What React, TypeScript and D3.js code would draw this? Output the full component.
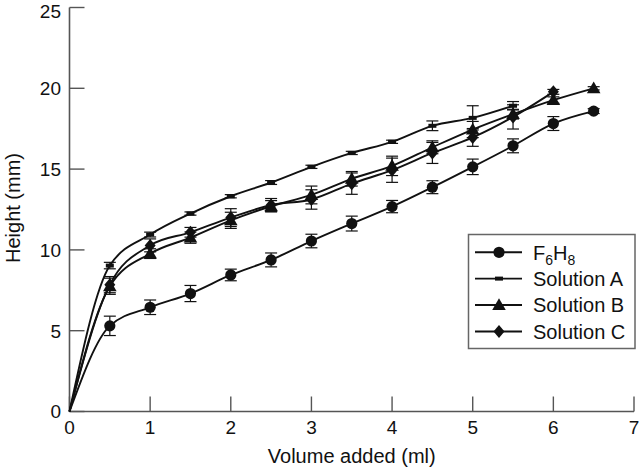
import React from "react";
import * as d3 from "d3";

const volumes = [0, 0.5, 1, 1.5, 2, 2.5, 3, 3.5, 4, 4.5, 5, 5.5, 6, 6.5];

const f6h8Values = [0, 5.3, 6.45, 7.3, 8.45, 9.38, 10.55, 11.63, 12.68, 13.88, 15.14, 16.44, 17.82, 18.59];
const f6h8Err = [0, 0.6, 0.45, 0.5, 0.36, 0.43, 0.42, 0.46, 0.38, 0.4, 0.48, 0.43, 0.43, 0.15];

const solAValues = [0, 9.03, 10.95, 12.25, 13.32, 14.17, 15.14, 16.0, 16.69, 17.68, 18.17, 18.92];
const solAErr = [0, 0.2, 0.15, 0.1, 0.1, 0.12, 0.1, 0.1, 0.1, 0.3, 0.75, 0.26];

const solBValues = [0, 7.75, 9.77, 10.76, 11.83, 12.7, 13.4, 14.4, 15.2, 16.35, 17.45, 18.4, 19.27, 20.0];
const solBErr = [0, 0.5, 0.3, 0.35, 0.5, 0.35, 0.55, 0.45, 0.6, 0.4, 0.5, 0.3, 0.2, 0.1];

const solCValues = [0, 7.85, 10.28, 11.09, 12.0, 12.78, 13.12, 14.1, 14.93, 16.0, 16.96, 18.23, 19.78];
const solCErr = [0, 0.5, 0.4, 0.3, 0.55, 0.4, 0.6, 0.66, 0.75, 0.65, 0.55, 0.75, 0.15];

const xTicks = [0, 1, 2, 3, 4, 5, 6, 7];
const yTicks = [0, 5, 10, 15, 20, 25];

const legendLabels = ["F6H8", "Solution A", "Solution B", "Solution C"];

type Kind = "circle" | "rect" | "triangle" | "diamond";

const series: { name: string; values: number[]; err: number[]; kind: Kind }[] = [
  { name: legendLabels[0], values: f6h8Values, err: f6h8Err, kind: "circle" },
  { name: legendLabels[1], values: solAValues, err: solAErr, kind: "rect" },
  { name: legendLabels[2], values: solBValues, err: solBErr, kind: "triangle" },
  { name: legendLabels[3], values: solCValues, err: solCErr, kind: "diamond" },
];

const W = 640;
const H = 469;
const x = d3.scaleLinear().domain([0, 7]).range([69.5, 634]);
const y = d3.scaleLinear().domain([0, 25]).range([411.5, 7.5]);

const FONT = "'Liberation Sans', Arial, sans-serif";
const INK = "#111";
const AXIS = "#555";

function Marker({ kind, cx, cy }: { kind: Kind; cx: number; cy: number }) {
  if (kind === "circle") return <circle cx={cx} cy={cy} r={5.6} fill={INK} />;
  if (kind === "rect") return <rect x={cx - 4} y={cy - 2} width={8} height={4} fill={INK} />;
  if (kind === "triangle") {
    const p = d3.symbol().type(d3.symbolTriangle).size(80)() as string;
    return <path d={p} transform={`translate(${cx},${cy + 1})`} fill={INK} />;
  }
  return (
    <path
      d={`M${cx},${cy - 6.5} L${cx + 5.5},${cy} L${cx},${cy + 6.5} L${cx - 5.5},${cy} Z`}
      fill={INK}
    />
  );
}

export default function App() {
  const line = d3
    .line<[number, number]>()
    .x((d) => x(d[0]))
    .y((d) => y(d[1]))
    .curve(d3.curveMonotoneX);

  const legendX = 468.5;
  const legendY = 234.5;
  const legendRows = [252.3, 278.6, 305, 331.5];

  return (
    <svg
      width={W}
      height={H}
      style={{ position: "absolute", left: 0, top: 0, background: "#fff" }}
      fontFamily={FONT}
    >
      {/* axes */}
      <line x1={x(0)} x2={x(0)} y1={y(25)} y2={y(0)} stroke={AXIS} strokeWidth={1.6} />
      <line x1={x(0)} x2={x(7)} y1={y(0)} y2={y(0)} stroke={AXIS} strokeWidth={1.6} />
      {yTicks.map((t) => (
        <g key={"y" + t}>
          <line x1={x(0)} x2={x(0) + 15} y1={y(t)} y2={y(t)} stroke={AXIS} strokeWidth={1.4} />
          {t === 25 ? (
            <text x={61} y={17.5} textAnchor="end" fontSize={19} fill={INK}>
              {t}
            </text>
          ) : (
            <text x={61} y={y(t)} dy="0.36em" textAnchor="end" fontSize={19} fill={INK}>
              {t}
            </text>
          )}
        </g>
      ))}
      {xTicks.map((t) => (
        <g key={"x" + t}>
          <line x1={x(t)} x2={x(t)} y1={y(0)} y2={y(0) - 15} stroke={AXIS} strokeWidth={1.4} />
          <text x={x(t)} y={434} textAnchor="middle" fontSize={19} fill={INK}>
            {t}
          </text>
        </g>
      ))}
      <text x={(x(0) + x(7)) / 2} y={463} textAnchor="middle" fontSize={20} fill={INK}>
        Volume added (ml)
      </text>
      <text
        transform={`translate(13,${208}) rotate(-90)`}
        dy="0.36em"
        textAnchor="middle"
        fontSize={20}
        fill={INK}
      >
        Height (mm)
      </text>

      {/* series */}
      {series.map((s) => {
        const pts = s.values.map((v, i) => [volumes[i], v] as [number, number]);
        return (
          <g key={s.name}>
            <path d={line(pts) || ""} fill="none" stroke={INK} strokeWidth={1.9} />
            {pts.map(([vx, vy], i) =>
              i === 0 || s.err[i] <= 0 ? null : (
                <g key={i} stroke={INK} strokeWidth={1.2}>
                  <line x1={x(vx)} x2={x(vx)} y1={y(vy - s.err[i])} y2={y(vy + s.err[i])} />
                  <line x1={x(vx) - 6} x2={x(vx) + 6} y1={y(vy - s.err[i])} y2={y(vy - s.err[i])} />
                  <line x1={x(vx) - 6} x2={x(vx) + 6} y1={y(vy + s.err[i])} y2={y(vy + s.err[i])} />
                </g>
              )
            )}
            {pts.map(([vx, vy], i) =>
              i === 0 ? null : <Marker key={"m" + i} kind={s.kind} cx={x(vx)} cy={y(vy)} />
            )}
          </g>
        );
      })}

      {/* legend */}
      <rect
        x={legendX}
        y={legendY}
        width={635 - legendX}
        height={348.5 - legendY}
        fill="#fff"
        stroke="#666"
        strokeWidth={1.5}
      />
      {series.map((s, i) => (
        <g key={"lg" + i}>
          <line x1={475} x2={522} y1={legendRows[i]} y2={legendRows[i]} stroke={INK} strokeWidth={1.9} />
          <Marker kind={s.kind} cx={499} cy={legendRows[i]} />
          <text x={533} y={legendRows[i]} dy="0.36em" fontSize={20} fill={INK}>
            {i === 0 ? (
              <>
                F<tspan fontSize={14} dy="5">6</tspan>
                <tspan dy="-5">H</tspan>
                <tspan fontSize={14} dy="5">8</tspan>
              </>
            ) : (
              s.name
            )}
          </text>
        </g>
      ))}
    </svg>
  );
}
